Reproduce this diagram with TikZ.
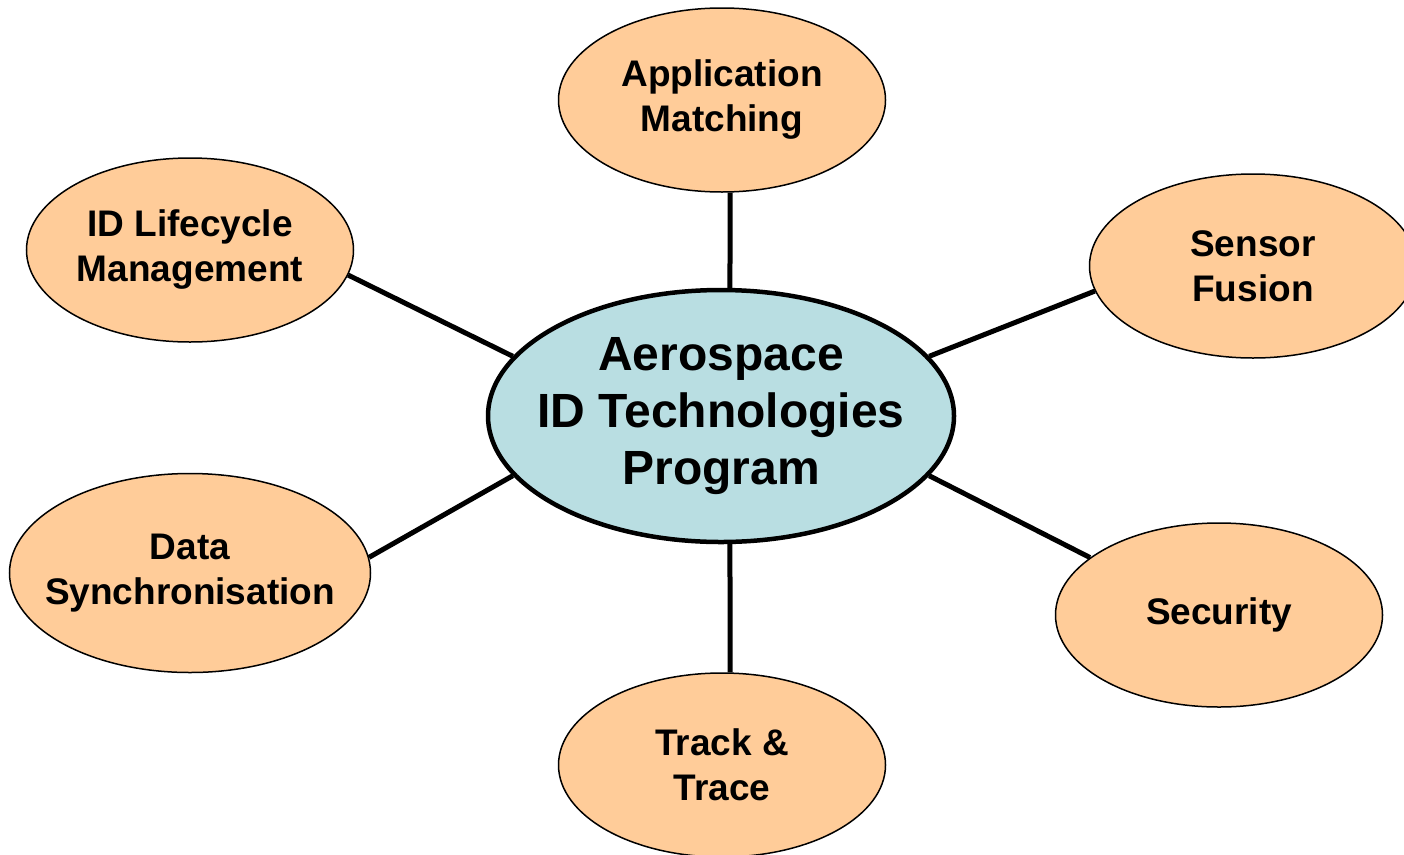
\documentclass[tikz,border=0pt]{standalone}
\usepackage{fontspec}
\setmainfont{Liberation Sans}
\usepackage{tikz}
\definecolor{peach}{RGB}{255, 204, 153}
\definecolor{paleblue}{RGB}{185, 222, 226}
\usetikzlibrary{shapes.geometric}

\begin{document}
\begin{tikzpicture}
				[x=1pt,y=-1pt,
				 topic/.style={ellipse, fill=peach, draw=black, line width=1.5pt, inner xsep=-40pt, inner ysep=0pt, minimum width=327pt, minimum height=184pt, align=center, font=\bfseries\fontsize{37}{45}\selectfont},
				 link/.style={line width=5pt, color=black}]
				\clip (0,0) rectangle (1404,854);
				\node (hub) [ellipse, fill=paleblue, draw=black, line width=4.5pt, inner xsep=-50pt, inner ysep=0pt, minimum width=466pt, minimum height=252pt, align=center, font=\bfseries\fontsize{48}{57}\selectfont] at (721, 416) {Aerospace\\ID Technologies\\Program};
				\node (app) [topic] at (722, 100) {Application\\Matching};
				\node (life) [topic] at (190, 250) {ID Lifecycle\\Management};
				\node (sensor) [topic] at (1253, 266) {Sensor\\Fusion};
				\node (data) [topic, minimum width=361pt, minimum height=199pt] at (190, 573) {Data\\Synchronisation};
				\node (sec) [topic] at (1219, 615) {Security};
				\node (track) [topic] at (722, 765) {Track \&\\Trace};
				\draw [link] (app.-85) to (hub.86);
				\draw [link] (life.-9) to (hub.164);
				\draw [link] (sensor.-171) to (hub.16);
				\draw [link] (data.5) to (hub.-164);
				\draw [link] (sec.156) to (hub.-16);
				\draw [link] (track.85) to (hub.-86);
		\end{tikzpicture}
\end{document}
